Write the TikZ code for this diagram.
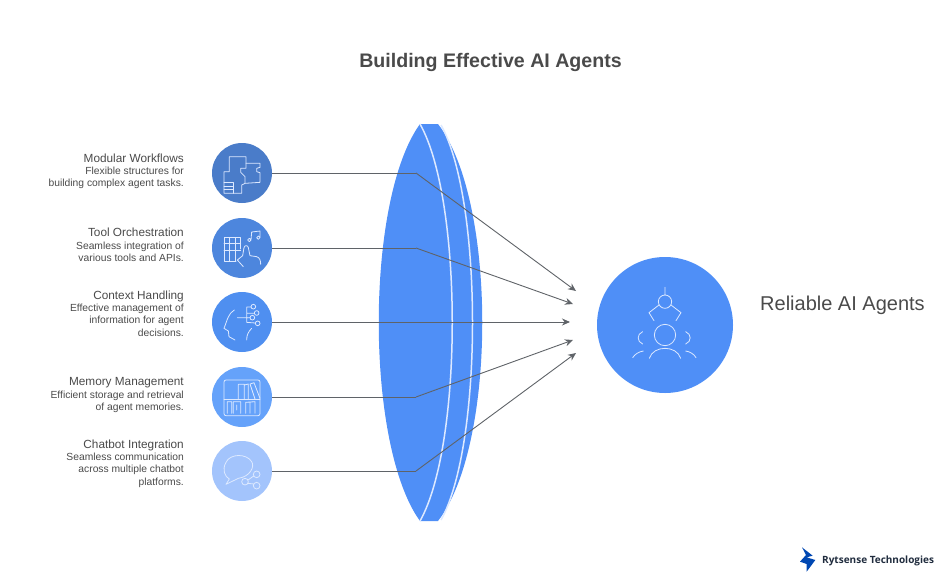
\documentclass[tikz,border=0pt]{standalone}
\usepackage{fontspec}
\setmainfont{Liberation Sans}
\newfontfamily\logofont{Open Sans}
\usetikzlibrary{arrows.meta}

\definecolor{txtcol}{HTML}{4A4A4A}
\definecolor{linkcol}{HTML}{5F6368}
\definecolor{lenscol}{HTML}{4F8FF7}
\definecolor{iconcol}{HTML}{DDE9FF}

\tikzset{
	stage/.style={shape=circle, minimum size=60pt, inner sep=0pt},
	caption/.style={anchor=north east, align=right, inner sep=0pt, text=txtcol, font=\fontsize{10.3}{12.3}\selectfont},
	link/.style={linkcol, line width=0.9pt},
	icon/.style={draw=iconcol, line width=0.8pt, line cap=round, line join=round},
	rim/.style={draw=iconcol, line width=1.5pt}
}
\newcommand{\capthead}[1]{{\fontsize{11.8}{12.3}\selectfont #1}}

\begin{document}
\begin{tikzpicture}[x=1pt, y=-1pt]
	\useasboundingbox (0,0) rectangle (948,576);

	% lens
	\fill [lenscol] (420,124) .. controls (365,200) and (365,445) .. (420,521)
		-- (438,521) .. controls (497,445) and (497,200) .. (438,124) -- cycle;
	\path [rim] (420,124) .. controls (463,200) and (463,445) .. (420,521);
	\path [rim] (441,125) .. controls (483,200) and (483,445) .. (441,520);

	\node [font=\bfseries\fontsize{19.6}{22}\selectfont, text=txtcol] (title) at (490.5,62) {Building Effective AI Agents};

	\node [stage, fill={rgb,255:red,74;green,124;blue,201}]  (m1) at (242,173) {};
	\node [stage, fill={rgb,255:red,77;green,134;blue,221}]  (m2) at (242,248) {};
	\node [stage, fill={rgb,255:red,79;green,143;blue,240}]  (m3) at (242,322) {};
	\node [stage, fill={rgb,255:red,101;green,162;blue,250}] (m4) at (242,397) {};
	\node [stage, fill={rgb,255:red,163;green,196;blue,252}] (m5) at (242,471) {};
	\node [shape=circle, minimum size=136pt, inner sep=0pt, fill=lenscol] (goal) at (665,325) {};

	\node [caption] (c1) at (184,153.5) {\capthead{Modular Workflows}\\Flexible structures for\\building complex agent tasks.};
	\node [caption] (c2) at (184,228) {\capthead{Tool Orchestration}\\Seamless integration of\\various tools and APIs.};
	\node [caption] (c3) at (184,290.5) {\capthead{Context Handling}\\Effective management of\\information for agent\\decisions.};
	\node [caption] (c4) at (184,377.5) {\capthead{Memory Management}\\Efficient storage and retrieval\\of agent memories.};
	\node [caption] (c5) at (184,439.5) {\capthead{Chatbot Integration}\\Seamless communication\\across multiple chatbot\\platforms.};
	\node [anchor=west, inner sep=0pt, text=txtcol, font=\fontsize{20}{24}\selectfont] (goaltext) at (760,305) {Reliable AI Agents};

	\coordinate (b1) at (416,173);
	\coordinate (b2) at (416,248);
	\coordinate (b4) at (416,397);
	\coordinate (b5) at (416,471);
	\coordinate (t1) at (576,291);
	\coordinate (t2) at (573,304);
	\coordinate (t3) at (570,322);
	\coordinate (t4) at (573,340);
	\coordinate (t5) at (576,353);

	\path [-, link] (m1) edge (b1);
	\path [-{Stealth[length=8pt,width=7pt]}, link] (b1) edge (t1);
	\path [-, link] (m2) edge (b2);
	\path [-{Stealth[length=8pt,width=7pt]}, link] (b2) edge (t2);
	\path [-{Stealth[length=8pt,width=7pt]}, link] (m3) edge (t3);
	\path [-, link] (m4) edge (b4);
	\path [-{Stealth[length=8pt,width=7pt]}, link] (b4) edge (t4);
	\path [-, link] (m5) edge (b5);
	\path [-{Stealth[length=8pt,width=7pt]}, link] (b5) edge (t5);

	% icons, drawn in the units of a 3x crop
	\begin{scope}[shift={(200,135)}, scale=1/3]
		\path [icon] (88,65) -- (138,65) -- (138,100) -- (122,100) -- (122,112) -- (135,125) -- (135,145) -- (125,150) -- (125,175) -- (72,175) -- (72,110) -- (88,110) -- cycle;
		\path [icon] (138,85) -- (180,85) -- (180,97) -- (170,100) -- (170,110) -- (180,113) -- (180,142) -- (135,145);
		\path [icon] (72,143) -- (100,143) -- (100,175) (72,153) -- (100,153) (72,164) -- (100,164);
		% grid and note
		\path [icon] (122,342) -- (122,308) -- (72,308) -- (72,378) -- (108,378) (72,325) -- (122,325) (72,345) -- (122,345) (88,308) -- (88,378) (105,308) -- (105,378);
		\path [icon] (130,395) -- (112,375) -- (128,362) -- (132,338) .. controls (133,330) and (144,330) .. (145,338) -- (150,362) -- (170,365) .. controls (180,368) and (182,378) .. (182,388);
		\path [icon] (148,315) circle (5) (175,308) circle (5) (153,315) -- (155,291) -- (180,288) -- (180,308);
	\end{scope}
	\begin{scope}[shift={(200,285)}, scale=1/3]
		\path [icon] (103,75) .. controls (85,85) and (82,105) .. (72,130) -- (85,138) -- (87,155) -- (105,165);
		\path [icon] (140,165) .. controls (140,150) and (145,140) .. (155,130);
		\path [icon] (112,98) -- (150,98) (140,98) -- (140,66) -- (153,66) (140,85) -- (162,85) (140,112) -- (166,114) (140,98) -- (140,112);
		\path [icon] (160,65) circle (7) (170,84) circle (7) (157,98) circle (7) (173,115) circle (7);
		% bookshelf
		\path [icon, rounded corners=2pt] (72,285) rectangle (180,392);
		\path [icon] (72,342) -- (180,342);
		\path [icon] (115,342) -- (115,298) -- (133,298) -- (133,342) (133,300) -- (145,297) -- (145,342) (150,297) -- (162,293) -- (180,340) (150,297) -- (165,342);
		\path [icon] (82,385) -- (82,350) -- (95,350) -- (95,385) (100,385) -- (100,350) -- (122,350) -- (122,385) (110,360) -- (110,375) (137,385) -- (137,352) -- (165,350) -- (165,385) (150,352) -- (150,385);
	\end{scope}
	\begin{scope}[shift={(200,435)}, scale=1/3]
		\path [icon] (115,130) .. controls (150,125) and (165,95) .. (155,80) .. controls (140,55) and (90,55) .. (78,82) .. controls (65,105) and (75,125) .. (88,132) -- (78,148) -- cycle;
		\path [icon] (135,140) circle (10) (170,118) circle (10) (170,152) circle (10) (144,135) -- (161,123) (144,145) -- (161,147);
	\end{scope}
	\begin{scope}[shift={(590,250)}, scale=1/3]
		\path [icon] (225,112) -- (225,135) (225,155) circle (20) (207,165) -- (177,188) -- (192,212) (243,165) -- (273,188) -- (258,212);
		\path [icon] (225,255) circle (32);
		\path [icon] (178,325) .. controls (190,285) and (260,285) .. (272,325);
		\path [icon] (158,245) .. controls (140,252) and (140,275) .. (158,282);
		\path [icon] (287,245) .. controls (305,252) and (305,275) .. (287,282);
		\path [icon] (128,323) .. controls (135,312) and (147,305) .. (160,303);
		\path [icon] (287,303) .. controls (300,305) and (312,312) .. (318,323);
	\end{scope}

	% logo
	\begin{scope}[shift={(790,540)}, scale=1/3]
		\fill [blue!60!cyan!70!black] (36,22) -- (68,47) -- (50,52) -- (76,60) -- (50,95) -- (50,72) -- (30,65) -- (48,45) -- cycle;
	\end{scope}
	\node [anchor=west, inner sep=0pt, text={rgb,255:red,32;green,44;blue,62}, font=\logofont\bfseries\fontsize{10}{12}\selectfont] (brand) at (822,561) {Rytsense Technologies};
\end{tikzpicture}
\end{document}
